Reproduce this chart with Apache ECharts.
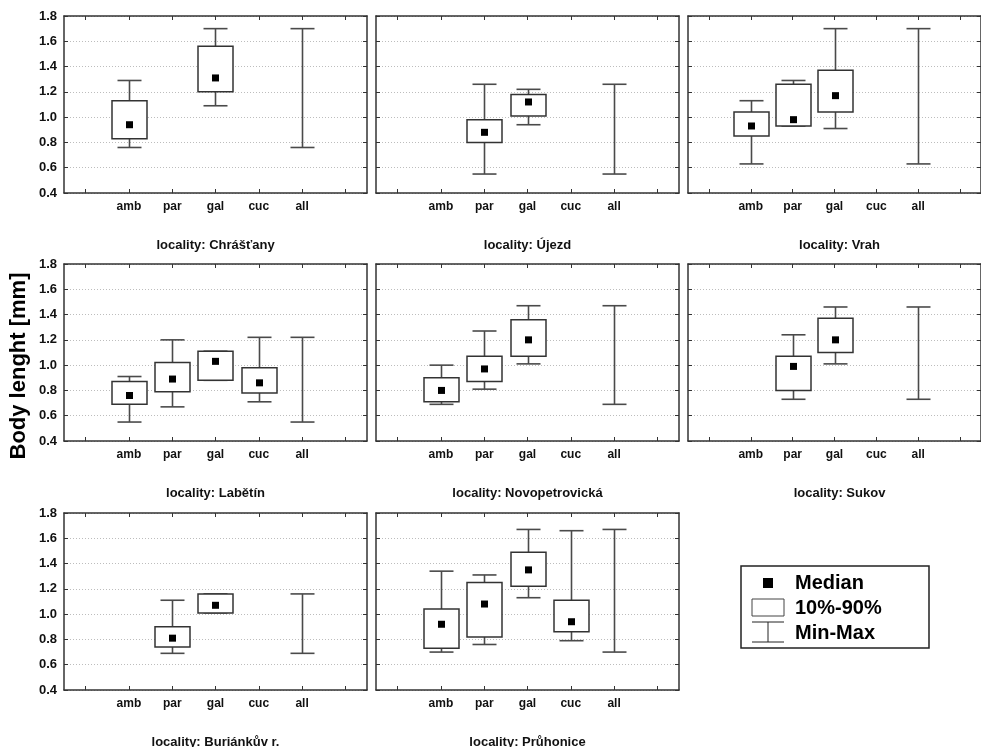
<!DOCTYPE html>
<html><head><meta charset="utf-8">
<script src="https://cdn.jsdelivr.net/npm/echarts@6/dist/echarts.min.js"></script>
<style>html,body{margin:0;padding:0;background:#fff}#c{width:981px;height:747px}</style>
</head><body><div id="c"></div>
<script>
// ---- data ----
const categories = ['amb', 'par', 'gal', 'cuc', 'all'];
const yMin = 0.4, yMax = 1.8, yStep = 0.2;
const localities = ['Chrášťany', 'Újezd', 'Vrah', 'Labětín', 'Novopetrovická', 'Sukov', 'Buriánkův r.', 'Průhonice'];
// each group: [min, p10, median, p90, max]; 'all' only [min, max]; null = no data
const chrastany      = [[0.76, 0.83, 0.94, 1.13, 1.29], null, [1.09, 1.20, 1.31, 1.56, 1.70], null, [0.76, 1.70]];
const ujezd          = [null, [0.55, 0.80, 0.88, 0.98, 1.26], [0.94, 1.01, 1.12, 1.18, 1.22], null, [0.55, 1.26]];
const vrah           = [[0.63, 0.85, 0.93, 1.04, 1.13], [0.93, 0.93, 0.98, 1.26, 1.29], [0.91, 1.04, 1.17, 1.37, 1.70], null, [0.63, 1.70]];
const labetin        = [[0.55, 0.69, 0.76, 0.87, 0.91], [0.67, 0.79, 0.89, 1.02, 1.20], [0.88, 0.88, 1.03, 1.11, 1.11], [0.71, 0.78, 0.86, 0.98, 1.22], [0.55, 1.22]];
const novopetrovicka = [[0.69, 0.71, 0.80, 0.90, 1.00], [0.81, 0.87, 0.97, 1.07, 1.27], [1.01, 1.07, 1.20, 1.36, 1.47], null, [0.69, 1.47]];
const sukov          = [null, [0.73, 0.80, 0.99, 1.07, 1.24], [1.01, 1.10, 1.20, 1.37, 1.46], null, [0.73, 1.46]];
const buriankuv      = [null, [0.69, 0.74, 0.81, 0.90, 1.11], [1.01, 1.01, 1.07, 1.16, 1.16], null, [0.69, 1.16]];
const pruhonice      = [[0.70, 0.73, 0.92, 1.04, 1.34], [0.76, 0.82, 1.08, 1.25, 1.31], [1.13, 1.22, 1.35, 1.49, 1.67], [0.79, 0.86, 0.94, 1.11, 1.66], [0.70, 1.67]];
const panelData = [chrastany, ujezd, vrah, labetin, novopetrovicka, sukov, buriankuv, pruhonice];
const legendLabels = ['Median', '10%-90%', 'Min-Max'];
const yAxisTitle = 'Body lenght [mm]';

// ---- layout ----
const colLeft = [64, 376, 688];
const rowTop = [16, 264, 513];
const gw = 303, gh = 177;
const FONT = 'Liberation Sans, Arial, sans-serif';
const frameColor = '#333';
const xCats = [''].concat(categories, ['']);

const grids = [], xAxes = [], yAxes = [], series = [], graphics = [];

panelData.forEach((groups, p) => {
  const col = p % 3, row = Math.floor(p / 3);
  const left = colLeft[col], top = rowTop[row];
  grids.push({ left: left, top: top, width: gw, height: gh, containLabel: false });
  const xi = xAxes.length;
  xAxes.push({
    type: 'category', gridIndex: p, data: xCats, position: 'bottom', boundaryGap: true,
    axisLine: { lineStyle: { color: frameColor, width: 1.5 } },
    axisTick: { show: true, inside: true, alignWithLabel: true, length: 4, lineStyle: { color: frameColor, width: 1 } },
    axisLabel: { color: '#111', fontFamily: FONT, fontWeight: 'bold', fontSize: 12, margin: 8, interval: 0 },
    splitLine: { show: false }
  });
  xAxes.push({
    type: 'category', gridIndex: p, data: xCats, position: 'top', boundaryGap: true,
    axisLine: { lineStyle: { color: frameColor, width: 1.5 } },
    axisTick: { show: true, inside: true, alignWithLabel: true, length: 4, lineStyle: { color: frameColor, width: 1 } },
    axisLabel: { show: false }, splitLine: { show: false }
  });
  const yi = yAxes.length;
  yAxes.push({
    type: 'value', gridIndex: p, min: yMin, max: yMax, interval: yStep, position: 'left',
    axisLine: { show: true, lineStyle: { color: frameColor, width: 1.5 } },
    axisTick: { show: true, inside: true, length: 4, lineStyle: { color: frameColor, width: 1 } },
    axisLabel: { show: col === 0, color: '#111', fontFamily: FONT, fontWeight: 'bold', fontSize: 13, margin: 7,
      formatter: v => v.toFixed(1) },
    splitLine: { show: true, lineStyle: { color: '#bdbdbd', width: 1, type: [1, 2] } }
  });
  yAxes.push({
    type: 'value', gridIndex: p, min: yMin, max: yMax, interval: yStep, position: 'right',
    axisLine: { show: true, lineStyle: { color: frameColor, width: 1.5 } },
    axisTick: { show: true, inside: true, length: 4, lineStyle: { color: frameColor, width: 1 } },
    axisLabel: { show: false }, splitLine: { show: false }
  });

  const items = [], stats = [];
  groups.forEach((g, k) => {
    if (!g) return;
    const s = g.length === 5 ? { min: g[0], p10: g[1], med: g[2], p90: g[3], max: g[4] } : { min: g[0], max: g[1] };
    stats.push(s);
    items.push([k + 1, s.min, s.max]);
  });
  series.push({
    type: 'custom', xAxisIndex: xi, yAxisIndex: yi, data: items, clip: false,
    encode: { x: 0, y: [1, 2] },
    renderItem: function (params, api) {
      const s = stats[params.dataIndex];
      const ci = api.value(0);
      const pMin = api.coord([ci, s.min]), pMax = api.coord([ci, s.max]);
      const cx = Math.round(pMin[0]) + 0.5;
      const capW = 24, boxW = 35, sq = 7;
      const ls = { stroke: '#4a4a4a', lineWidth: 1.6 };
      const ch = [];
      if (s.p10 != null) {
        const y10 = api.coord([ci, s.p10])[1], y90 = api.coord([ci, s.p90])[1], ym = api.coord([ci, s.med])[1];
        ch.push({ type: 'line', shape: { x1: cx, y1: pMin[1], x2: cx, y2: y10 }, style: ls });
        ch.push({ type: 'line', shape: { x1: cx, y1: y90, x2: cx, y2: pMax[1] }, style: ls });
        ch.push({ type: 'line', shape: { x1: cx - capW / 2, y1: pMin[1], x2: cx + capW / 2, y2: pMin[1] }, style: ls });
        ch.push({ type: 'line', shape: { x1: cx - capW / 2, y1: pMax[1], x2: cx + capW / 2, y2: pMax[1] }, style: ls });
        ch.push({ type: 'rect', shape: { x: cx - boxW / 2, y: y90, width: boxW, height: y10 - y90 },
          style: { fill: '#fff', stroke: '#333', lineWidth: 1.5 } });
        ch.push({ type: 'rect', shape: { x: cx - sq / 2, y: ym - sq / 2, width: sq, height: sq },
          style: { fill: '#000' } });
      } else {
        ch.push({ type: 'line', shape: { x1: cx, y1: pMin[1], x2: cx, y2: pMax[1] }, style: ls });
        ch.push({ type: 'line', shape: { x1: cx - capW / 2, y1: pMin[1], x2: cx + capW / 2, y2: pMin[1] }, style: ls });
        ch.push({ type: 'line', shape: { x1: cx - capW / 2, y1: pMax[1], x2: cx + capW / 2, y2: pMax[1] }, style: ls });
      }
      return { type: 'group', children: ch };
    }
  });

  graphics.push({
    type: 'text', x: left + gw / 2, y: top + gh + 52,
    style: { text: 'locality: ' + localities[p], fill: '#111', font: 'bold 13px ' + FONT, textAlign: 'center', textVerticalAlign: 'middle' }
  });
});

// y-axis title
graphics.push({
  type: 'text', x: 19, y: 366, rotation: Math.PI / 2,
  style: { text: yAxisTitle, fill: '#000', font: 'bold 22px ' + FONT, textAlign: 'center', textVerticalAlign: 'middle' }
});

// legend
const L = { x: 741, y: 566, w: 188, h: 82 };
const rowY = [583, 608, 633];
graphics.push({ type: 'rect', shape: { x: L.x, y: L.y, width: L.w, height: L.h }, style: { fill: '#fff', stroke: '#222', lineWidth: 1.5 } });
graphics.push({ type: 'rect', shape: { x: 763, y: rowY[0] - 5, width: 10, height: 10 }, style: { fill: '#000' } });
graphics.push({ type: 'rect', shape: { x: 752, y: rowY[1] - 9, width: 32, height: 17 }, style: { fill: '#fff', stroke: '#444', lineWidth: 1 } });
graphics.push({ type: 'line', shape: { x1: 752, y1: 622, x2: 784, y2: 622 }, style: { stroke: '#222', lineWidth: 1 } });
graphics.push({ type: 'line', shape: { x1: 752, y1: 642, x2: 784, y2: 642 }, style: { stroke: '#222', lineWidth: 1 } });
graphics.push({ type: 'line', shape: { x1: 768, y1: 622, x2: 768, y2: 642 }, style: { stroke: '#222', lineWidth: 1 } });
legendLabels.forEach((t, i) => {
  graphics.push({ type: 'text', x: 795, y: rowY[i], style: { text: t, fill: '#000', font: 'bold 20px ' + FONT, textAlign: 'left', textVerticalAlign: 'middle' } });
});

const chart = echarts.init(document.getElementById('c'), null, { renderer: 'canvas' });
chart.setOption({
  animation: false,
  backgroundColor: '#fff',
  grid: grids, xAxis: xAxes, yAxis: yAxes, series: series, graphic: graphics
});
</script></body></html>
